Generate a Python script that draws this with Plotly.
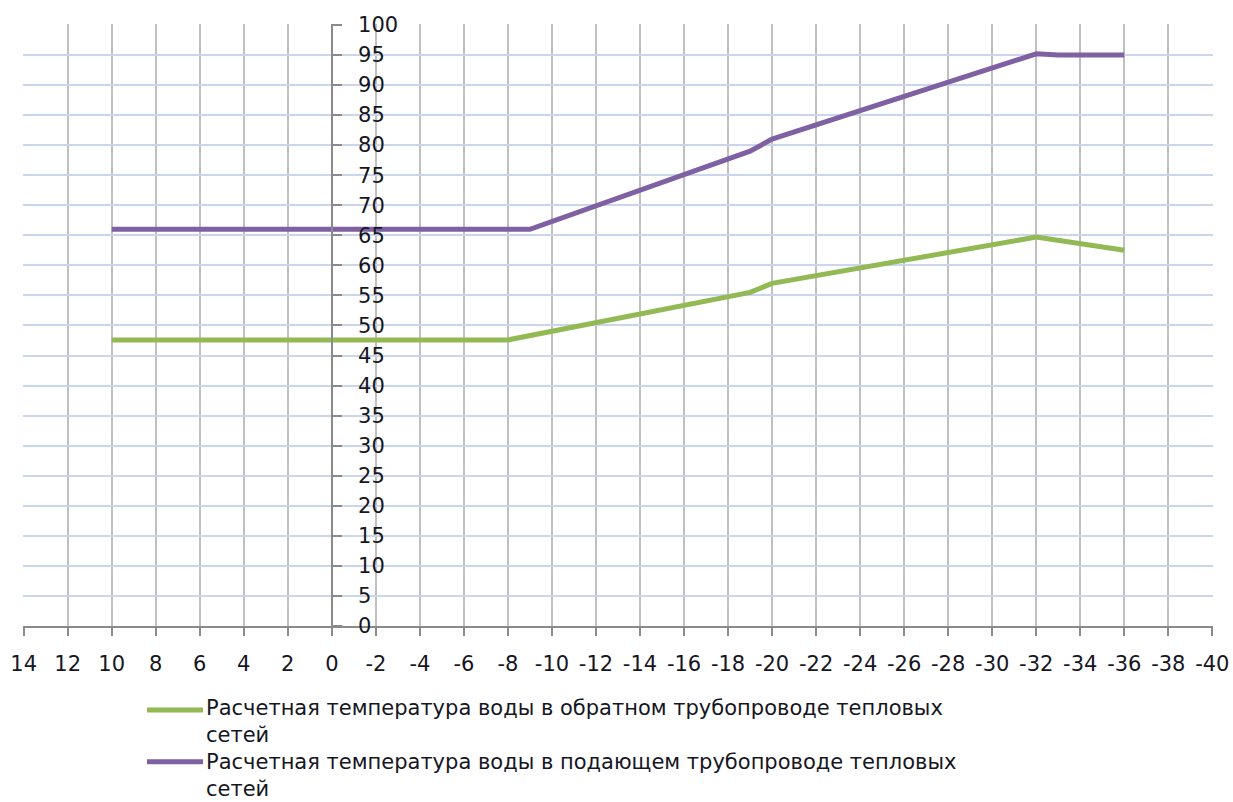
import plotly.graph_objects as go

# Outdoor air temperature, °C (breakpoints of the heating curve)
return_x = [10, -8, -19, -20, -32, -36]
return_t = [47.6, 47.6, 55.5, 57.0, 64.7, 62.5]

supply_x = [10, -9, -19, -20, -32, -33, -36]
supply_t = [66.0, 66.0, 79.0, 81.0, 95.2, 95.0, 95.0]

x_tick_vals = list(range(14, -41, -2))
x_tick_text = [str(v) for v in x_tick_vals]
y_tick_vals = list(range(0, 101, 5))

# series captions, as they wrap in the key under the chart
return_lines = ["Расчетная температура воды в обратном трубопроводе тепловых", "сетей"]
supply_lines = ["Расчетная температура воды в подающем трубопроводе тепловых", "сетей"]

GREEN = "#93B955"
PURPLE = "#7E60A3"
AXIS = "#8A8A8A"
VGRID = "#C0C0C0"
HGRID = "#C9D6EE"
TEXT = "#16161F"
FONT = "DejaVu Sans"

W, H = 1233, 802
ML, MR, MT, MB = 23, 20, 24, 176
PW, PH = W - ML - MR, H - MT - MB

# a hair of padding so the edge grid lines (14, -40, 100) are kept
x_range = [14.03, -40.03]
y_range = [0, 100.15]


def px_x(p):
    return (p - ML) / PW


def px_y(p):
    return (H - MB - p) / PH


fig = go.Figure()
fig.add_trace(go.Scatter(
    x=return_x, y=return_t, mode="lines", name=" ".join(return_lines),
    line=dict(color=GREEN, width=5), showlegend=False,
))
fig.add_trace(go.Scatter(
    x=supply_x, y=supply_t, mode="lines", name=" ".join(supply_lines),
    line=dict(color=PURPLE, width=5), showlegend=False,
))

# the value axis sits at x = 0 of the reversed temperature axis
y_axis_pos = (x_range[0] - 0) / (x_range[0] - x_range[1])

# key under the plot: a line sample and the wrapped caption for each series
shapes = []
annotations = []
for color, lines, sample_y, text_top in [
    (GREEN, return_lines, 710, 694),
    (PURPLE, supply_lines, 761.7, 748),
]:
    shapes.append(dict(
        type="line", xref="paper", yref="paper",
        x0=px_x(147), x1=px_x(203), y0=px_y(sample_y), y1=px_y(sample_y),
        line=dict(color=color, width=5),
    ))
    annotations.append(dict(
        text="<br>".join(lines), xref="paper", yref="paper",
        x=px_x(204), y=px_y(text_top), xanchor="left", yanchor="top",
        align="left", showarrow=False,
        font=dict(family=FONT, size=21, color=TEXT),
    ))

fig.update_layout(
    width=W, height=H,
    margin=dict(l=ML, r=MR, t=MT, b=MB, autoexpand=False),
    paper_bgcolor="white", plot_bgcolor="white",
    font=dict(family=FONT, size=21, color=TEXT),
    showlegend=False,
    xaxis=dict(
        range=x_range, tickmode="array",
        tickvals=x_tick_vals, ticktext=x_tick_text,
        showgrid=True, gridcolor=VGRID, gridwidth=2,
        zeroline=False,
        showline=True, linecolor=AXIS, linewidth=2,
        ticks="outside", ticklen=8, tickwidth=2, tickcolor=AXIS,
        ticklabelstandoff=10,
        tickfont=dict(family=FONT, size=21, color=TEXT),
    ),
    yaxis=dict(
        range=y_range, tickmode="array", tickvals=y_tick_vals,
        anchor="free", position=y_axis_pos, side="right",
        showgrid=True, gridcolor=HGRID, gridwidth=2,
        zeroline=False,
        showline=True, linecolor=AXIS, linewidth=2,
        ticks="outside", ticklen=9, tickwidth=2, tickcolor=AXIS,
        ticklabelstandoff=12,
        tickfont=dict(family=FONT, size=21, color=TEXT),
    ),
    shapes=shapes,
    annotations=annotations,
)

fig.write_html("out.html")
